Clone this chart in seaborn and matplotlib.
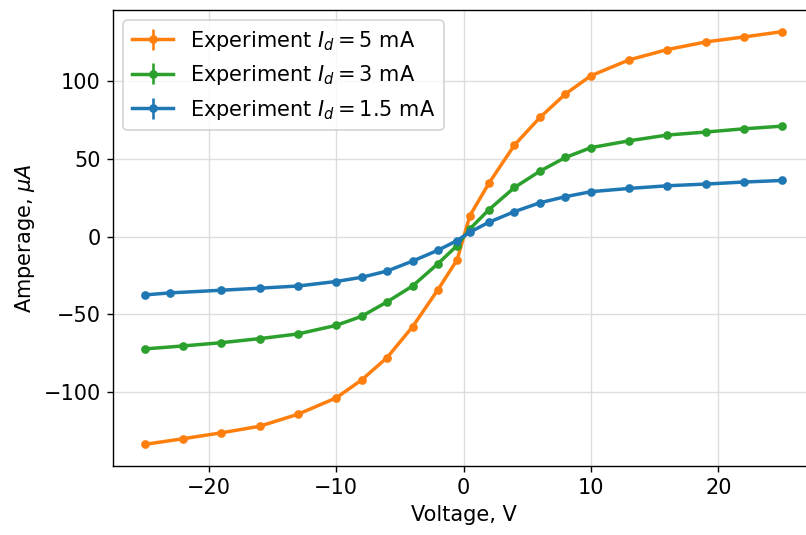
import matplotlib
matplotlib.use("Agg")
import matplotlib.pyplot as plt
import numpy as np
import seaborn as sns

# Voltage points (V) and measured current (uA) for each diode current
volt_5 = [-25, -22, -19, -16, -13, -10, -8, -6, -4, -2, -0.5,
          0.5, 2, 4, 6, 8, 10, 13, 16, 19, 22, 25]
amp_5 = [-133.5, -129.9, -126.1, -121.9, -114.2, -103.7, -92.2, -77.8, -58.0, -34.1, -14.9,
         13.4, 34.3, 58.8, 76.5, 91.6, 103.3, 113.5, 120.1, 125.0, 128.2, 131.6]

volt_3 = [-25, -22, -19, -16, -13, -10, -8, -6, -4, -2, -0.5,
          0.5, 2, 4, 6, 8, 10, 13, 16, 19, 22, 25]
amp_3 = [-72.2, -70.3, -68.2, -65.6, -62.6, -57.1, -51.3, -42.0, -31.8, -17.4, -5.8,
         4.9, 17.3, 31.5, 42.0, 50.8, 57.1, 61.5, 65.2, 67.1, 69.2, 70.9]

volt_15 = [-25, -23, -19, -16, -13, -10, -8, -6, -4, -2, -0.5,
           0.5, 2, 4, 6, 8, 10, 13, 16, 19, 22, 25]
amp_15 = [-37.5, -36.2, -34.5, -33.2, -31.8, -28.9, -26.2, -22.2, -15.8, -8.8, -2.6,
          2.8, 9.2, 16.0, 21.7, 25.6, 28.8, 30.9, 32.6, 33.7, 35.0, 36.0]

labels = [r"Experiment $I_d = 5$ mA", r"Experiment $I_d = 3$ mA", r"Experiment $I_d = 1.5$ mA"]

pal = sns.color_palette("tab10")
colors = [pal[1], pal[2], pal[0]]

DPI = 125
fig = plt.figure(figsize=(806 / DPI, 535 / DPI), dpi=DPI)
ax = fig.add_axes([113 / 806, 1 - 466 / 535, 701 / 806, 456 / 535])

series = [(volt_5, amp_5), (volt_3, amp_3), (volt_15, amp_15)]
for (v, a), lab, c in zip(series, labels, colors):
    err = np.full(len(a), 0.6)
    ax.errorbar(v, a, yerr=err, fmt="-o", color=c, lw=2, ms=4, elinewidth=1.5, label=lab)

ax.grid(True, color="#dddddd", lw=0.8)
ax.set_axisbelow(True)
ax.set_xlabel("Voltage, V", fontsize=12)
ax.set_ylabel(r"Amperage, $\mu A$", fontsize=12)
ax.tick_params(labelsize=12)
ax.legend(loc="upper left", fontsize=12)

fig.savefig("out.png", dpi=DPI)
